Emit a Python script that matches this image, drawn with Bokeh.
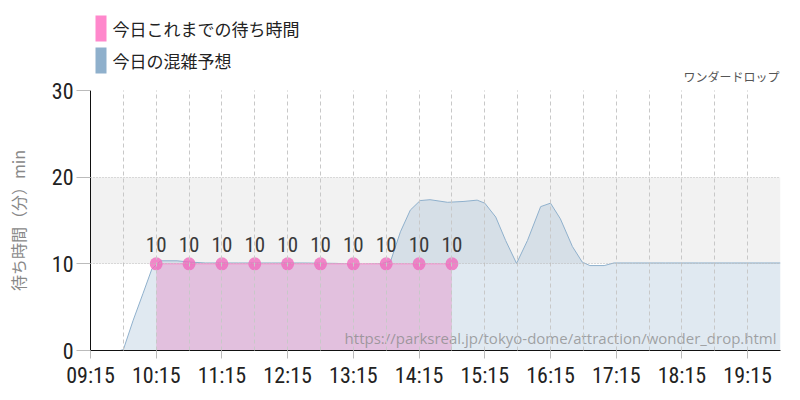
import math
from bokeh.plotting import figure
from bokeh.layouts import column
from bokeh.models import (ColumnDataSource, FixedTicker, Range1d, BoxAnnotation,
                          Label)
from bokeh.core.properties import value
from bokeh.embed import file_html
from bokeh.resources import INLINE

# ---------------- data ----------------
actual_times = ["10:15", "10:45", "11:15", "11:45", "12:15", "12:45",
                "13:15", "13:45", "14:15", "14:45"]
actual_waits = [10, 10, 10, 10, 10, 10, 10, 10, 10, 10]

forecast_times = ["09:15", "09:35", "09:45", "09:54", "10:03", "10:11", "10:19",
                  "10:34", "10:46", "11:00", "11:30", "12:00", "12:30", "13:00",
                  "13:18", "13:40", "13:49", "13:58", "14:07", "14:16", "14:25",
                  "14:41", "14:56", "15:08", "15:15", "15:25", "15:34", "15:44",
                  "15:54", "16:06", "16:15", "16:24", "16:35", "16:44", "16:51",
                  "17:04", "17:13", "17:30", "18:00", "18:30", "19:00", "19:30",
                  "19:45"]
forecast_waits = [0.0, -0.25, 0.1, 3.5, 6.6, 9.4, 10.35,
                  10.35, 10.2, 10.1, 10.1, 10.1, 10.1, 10.05,
                  9.9, 10.0, 10.3, 13.7, 16.2, 17.3, 17.4,
                  17.1, 17.2, 17.35, 17.0, 15.4, 12.7, 10.05,
                  12.7, 16.6, 17.0, 15.2, 12.0, 10.2, 9.8,
                  9.8, 10.1, 10.1, 10.1, 10.1, 10.1, 10.1,
                  10.1]

tick_labels = ["09:15", "10:15", "11:15", "12:15", "13:15", "14:15",
               "15:15", "16:15", "17:15", "18:15", "19:15"]
y_ticks = [0, 10, 20, 30]

legend_labels = ["今日これまでの待ち時間", "今日の混雑予想"]
legend_colors = ["#ff88cc", "#8fb0cc"]
title_text = "ワンダードロップ"
y_title = "待ち時間（分）min"
url_text = "https://parksreal.jp/tokyo-dome/attraction/wonder_drop.html"


def to_min(s):
    h, m = s.split(":")
    return int(h) * 60 + int(m)


ax = [to_min(t) for t in actual_times]
fx = [to_min(t) for t in forecast_times]
tick_pos = [to_min(t) for t in tick_labels]
x_start = to_min("09:15")
x_end = to_min("19:45")
half_hours = list(range(x_start, x_end + 1, 30))

COND = "'Roboto Condensed', 'Liberation Sans Narrow', 'DejaVu Sans Condensed', sans-serif"
JP = "'Noto Sans CJK JP', sans-serif"

# ---------------- header (legend + title) ----------------
HEAD_H = 82
head = figure(width=800, height=HEAD_H, output_backend="svg", toolbar_location=None,
              x_range=Range1d(90, 780), y_range=Range1d(HEAD_H, 0),
              x_axis_type=None, y_axis_type=None, min_border=0,
              title_location=None)
head.outline_line_color = None
head.xgrid.visible = False
head.ygrid.visible = False

leg_top = [15, 47]
head.quad(left=[95, 95], right=[106, 106], top=leg_top,
          bottom=[t + 26 for t in leg_top], fill_color=legend_colors,
          line_color=None)
head.text(x=[112, 112], y=[t + 13 for t in leg_top], text=legend_labels,
          text_font=value(JP), text_font_size="17px", text_color="#222222",
          text_baseline="middle", text_align="left")
head.text(x=[779], y=[76], text=[title_text], text_font=value(JP),
          text_font_size="12px", text_color="#555555", text_baseline="middle",
          text_align="right")

# ---------------- main chart ----------------
p = figure(width=800, height=400 - HEAD_H, frame_width=690, frame_height=260,
           output_backend="svg", toolbar_location=None, title_location=None,
           x_range=Range1d(x_start, x_end), y_range=Range1d(0, 30),
           min_border_left=90, min_border_right=20, min_border_top=8,
           min_border_bottom=50)
p.outline_line_color = None
p.background_fill_color = "white"

# grey band 10-20
p.add_layout(BoxAnnotation(bottom=10, top=20, fill_color="#f2f2f2", fill_alpha=1,
                           line_color=None, level="underlay"))

# forecast area
fsrc = ColumnDataSource(dict(x=fx, y=forecast_waits, y0=[0] * len(fx)))
p.varea(x="x", y1="y0", y2="y", source=fsrc, fill_color="#8fb0cc", fill_alpha=0.28)
p.line(x="x", y="y", source=fsrc, line_color="#8fb0cc", line_width=1)

# actual area
asrc = ColumnDataSource(dict(x=ax, y=actual_waits, y0=[0] * len(ax),
                             lab=[str(v) for v in actual_waits]))
p.varea(x="x", y1="y0", y2="y", source=asrc, fill_color="#e2c0de", fill_alpha=1)
p.line(x="x", y="y", source=asrc, line_color="#ff88cc", line_width=1)
p.scatter(x="x", y="y", source=asrc, size=13, fill_color="#f06abd", fill_alpha=0.8,
          line_color=None)
p.text(x="x", y="y", text="lab", source=asrc, text_align="center",
       text_baseline="bottom", y_offset=-12, text_font=value(COND),
       text_font_size="21px", text_color="#3a3a3a")

# grids
p.xgrid.ticker = FixedTicker(ticks=half_hours)
p.xgrid.grid_line_color = "#c8c8c8"
p.xgrid.grid_line_dash = "4 3"
p.xgrid.level = "overlay"
p.ygrid.ticker = FixedTicker(ticks=y_ticks)
p.ygrid.grid_line_color = "#bbbbbb"
p.ygrid.grid_line_dash = "1 2"
p.ygrid.level = "overlay"

# axes
p.xaxis.ticker = FixedTicker(ticks=tick_pos)
p.xaxis.major_label_overrides = {t: l for t, l in zip(tick_pos, tick_labels)}
p.xaxis.major_tick_out = 8
p.xaxis.major_tick_in = 0
p.xaxis.minor_tick_line_color = None
p.xaxis.major_tick_line_color = "#bbbbbb"
p.xaxis.axis_line_color = "#111111"
p.xaxis.major_label_text_font = COND
p.xaxis.major_label_text_font_size = "22px"
p.xaxis.major_label_text_color = "#222222"
p.xaxis.major_label_standoff = 4

p.yaxis.ticker = FixedTicker(ticks=y_ticks)
p.yaxis.major_tick_out = 14
p.yaxis.major_tick_in = 0
p.yaxis.minor_tick_line_color = None
p.yaxis.major_tick_line_color = "#bbbbbb"
p.yaxis.axis_line_color = "#111111"
p.yaxis.major_label_text_font = COND
p.yaxis.major_label_text_font_size = "22px"
p.yaxis.major_label_text_color = "#222222"
p.yaxis.major_label_standoff = 3
p.yaxis.axis_label = y_title
p.yaxis.axis_label_text_font = JP
p.yaxis.axis_label_text_font_size = "16px"
p.yaxis.axis_label_text_font_style = "normal"
p.yaxis.axis_label_text_color = "#888888"
p.yaxis.axis_label_standoff = 19

# watermark
p.add_layout(Label(x=686, y=13, x_units="screen", y_units="screen",
                   text=url_text, text_font="'Open Sans', sans-serif",
                   text_font_size="15px", text_color="#888888", text_alpha=0.75,
                   text_baseline="middle", text_align="right"))

layout = column(head, p, spacing=0)
open("out.html", "w").write(file_html(layout, INLINE))
